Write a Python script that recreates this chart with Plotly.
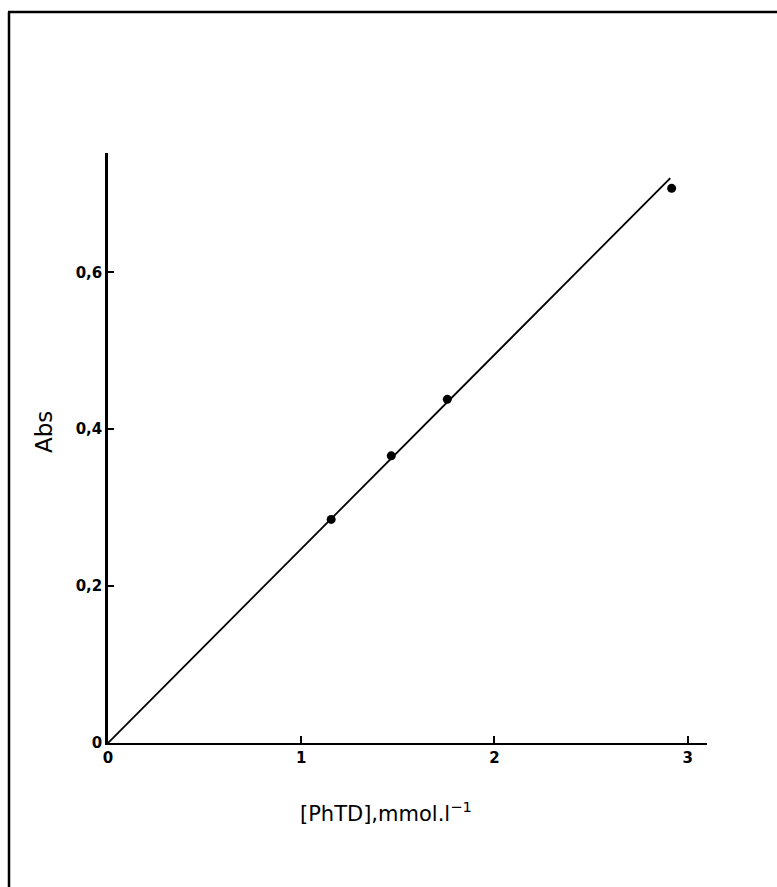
import plotly.graph_objects as go

# data
conc = [1.155, 1.466, 1.756, 2.917]        # [PhTD], mmol/l
absorb = [0.285, 0.366, 0.438, 0.707]      # Abs
fit_x = [0.0, 2.91]
fit_y = [0.0, 0.72]
x_ticks = [0, 1, 2, 3]
x_ticktext = ["0", "1", "2", "3"]
y_ticks = [0, 0.2, 0.4, 0.6]
y_ticktext = ["0", "0,2", "0,4", "0,6"]

W, H = 777, 887
L, R, T, B = 108, 70, 153, 144
pw, ph = W - L - R, H - T - B

def px(x):
    return (x - L) / pw

def py(y):
    return (H - B - y) / ph

fig = go.Figure()
fig.add_trace(go.Scatter(x=fit_x, y=fit_y, mode="lines",
                         line=dict(color="black", width=1.8), showlegend=False))
fig.add_trace(go.Scatter(x=conc, y=absorb, mode="markers",
                         marker=dict(color="black", size=9), showlegend=False))

font = "DejaVu Sans"
tickfont = dict(family=font, size=15, color="black", weight="bold")
fig.update_layout(
    width=W, height=H,
    margin=dict(l=L, r=R, t=T, b=B, pad=0),
    paper_bgcolor="white", plot_bgcolor="white",
    xaxis=dict(range=[0, 3.1], showgrid=False, zeroline=False,
               showline=True, linecolor="black", linewidth=2,
               ticks="inside", ticklen=7, tickwidth=1.5, tickcolor="black",
               tickvals=x_ticks, ticktext=x_ticktext, tickfont=tickfont),
    yaxis=dict(range=[0, 0.752], showgrid=False, zeroline=False,
               showline=True, linecolor="black", linewidth=2.5,
               ticks="inside", ticklen=6, tickwidth=1.5, tickcolor="black",
               tickvals=y_ticks, ticktext=y_ticktext, tickfont=tickfont),
    shapes=[
        dict(type="line", xref="paper", yref="paper",
             x0=px(9), x1=px(9), y0=py(12), y1=py(887),
             line=dict(color="black", width=2.5)),
        dict(type="line", xref="paper", yref="paper",
             x0=px(8), x1=px(777), y0=py(12), y1=py(12),
             line=dict(color="black", width=2.5)),
    ],
    annotations=[
        dict(text="Abs", xref="paper", yref="paper", x=px(44), y=py(432),
             textangle=-90, showarrow=False, xanchor="center", yanchor="middle",
             font=dict(family=font, size=23, color="black")),
        dict(text="[PhTD],mmol.l<sup>−1</sup>", xref="paper", yref="paper",
             x=px(386), y=py(812), showarrow=False, xanchor="center", yanchor="middle",
             font=dict(family=font, size=21, color="black")),
    ],
)

fig.write_html("out.html")
